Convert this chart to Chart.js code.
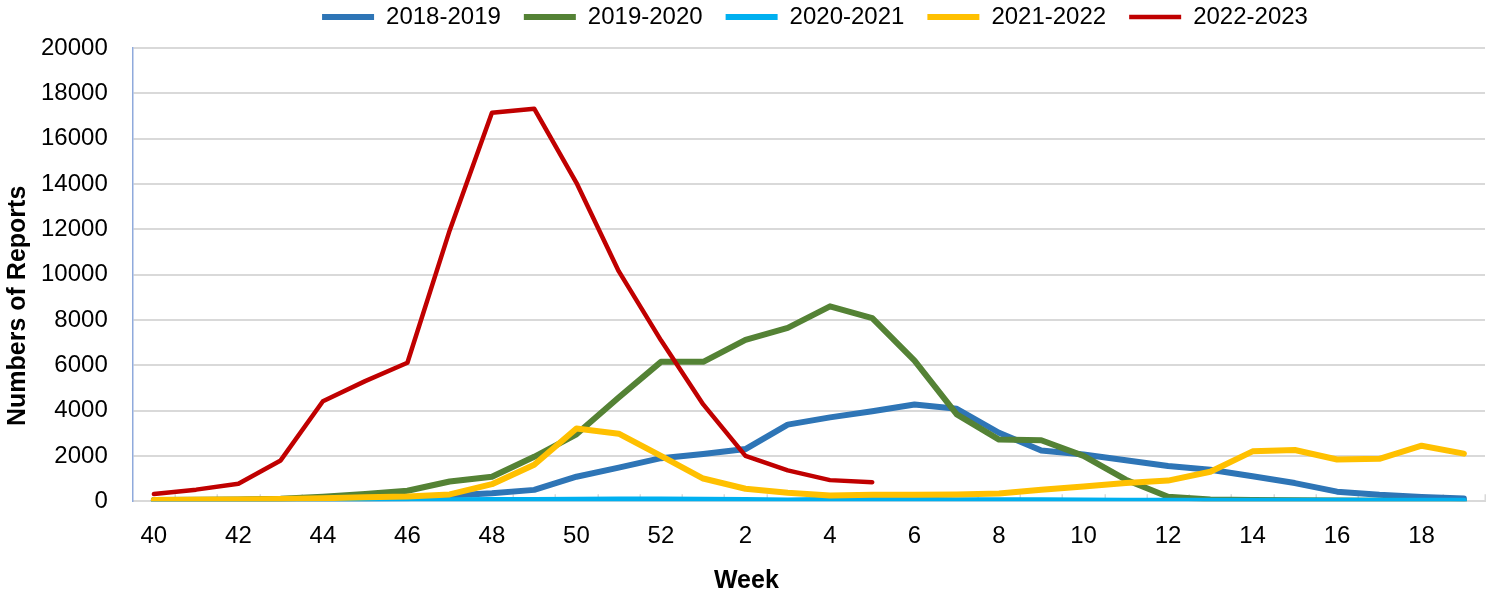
<!DOCTYPE html>
<html><head><meta charset="utf-8">
<script src="https://cdn.jsdelivr.net/npm/chart.js@4"></script>
<style>
html,body{margin:0;padding:0;background:#fff;overflow:hidden;width:1497px;height:598px}
#wrap{position:absolute;left:0;top:-18px;width:1497px;height:616px}
</style>
</head><body><div id="wrap"><canvas id="c"></canvas></div>
<script>
const weeks = ['40','41','42','43','44','45','46','47','48','49','50','51','52',
  '1','2','3','4','5','6','7','8','9','10','11','12','13','14','15','16','17','18','19'];
const xTickLabels = ['40','42','44','46','48','50','52','2','4','6','8','10','12','14','16','18'];
const yTicks = [0,2000,4000,6000,8000,10000,12000,14000,16000,18000,20000];

const s2018_2019 = [30,40,50,60,80,100,130,250,350,500,1080,1480,1900,2080,2300,3380,3700,3970,4270,4080,3020,2240,2060,1810,1550,1390,1100,800,420,280,190,120];
const s2019_2020 = [50,60,80,110,200,320,460,870,1080,1960,2950,4580,6150,6150,7120,7650,8600,8080,6200,3830,2720,2690,2000,950,200,80,50,40,30,20,10,10];
const s2020_2021 = [30,30,30,30,30,30,30,40,50,50,60,70,70,60,50,30,60,60,60,40,40,40,30,20,20,20,20,20,20,20,20,20];
const s2021_2022 = [50,60,80,100,130,170,210,300,750,1610,3210,2980,2000,1000,550,370,250,280,290,300,340,510,650,800,910,1300,2200,2260,1840,1870,2450,2100];
const s2022_2023 = [320,510,770,1800,4410,5300,6110,11950,17140,17320,14050,10150,7100,4270,2000,1360,930,840,
  null,null,null,null,null,null,null,null,null,null,null,null,null,null];

const seriesNames = ['2018-2019','2019-2020','2020-2021','2021-2022','2022-2023'];
const seriesColors = ['#2E75B6','#548235','#00B0F0','#FFC000','#C00000'];
const seriesData = [s2018_2019,s2019_2020,s2020_2021,s2021_2022,s2022_2023];
const seriesWidths = [6,6,6,6,4.5];

const innerTicks = {
  id:'innerTicks',
  beforeInit(chart){
    const fit = chart.legend.fit;
    chart.legend.fit = function(){ fit.bind(chart.legend)(); this.height += 9; };
  },
  afterLayout(chart){
    chart.legend.left += 145;
  },
  beforeDatasetsDraw(chart){
    const {ctx, chartArea:a, scales:{x}} = chart;
    const n = weeks.length;
    ctx.save();
    ctx.strokeStyle = '#D9D9D9'; ctx.lineWidth = 1.5;
    ctx.beginPath();
    for(let k=1;k<=n;k++){
      const px = Math.round(x.getPixelForValue(k-0.5)) + 0.25;
      ctx.moveTo(px, a.bottom); ctx.lineTo(px, a.bottom-7);
    }
    ctx.stroke();
    ctx.restore();
  }
};

new Chart(document.getElementById('c'), {
  type:'line',
  data:{
    labels: weeks,
    datasets: seriesNames.map((name,i)=>({
      label:name,
      data:seriesData[i],
      borderColor:seriesColors[i],
      backgroundColor:seriesColors[i],
      borderWidth:seriesWidths[i],
      borderCapStyle:'round',
      borderJoinStyle:'round',
      pointRadius:0,
      pointHoverRadius:0,
      tension:0,
      fill:false,
      spanGaps:false,
      order:4-i
    }))
  },
  options:{
    responsive:true,
    maintainAspectRatio:false,
    animation:false,
    events:[],
    layout:{padding:{left:0,right:12,top:0,bottom:0}},
    plugins:{
      tooltip:{enabled:false},
      legend:{
        display:true,
        position:'top',
        align:'center',
        labels:{
          usePointStyle:true,
          pointStyle:'line',
          pointStyleWidth:52,
          boxWidth:52,
          padding:23,
          color:'#000',
          sort:(a,b)=>a.datasetIndex-b.datasetIndex,
          font:{family:'"Liberation Sans", Arial, sans-serif', size:24}
        }
      }
    },
    scales:{
      x:{
        type:'category',
        offset:true,
        grid:{display:true, drawOnChartArea:false, drawTicks:false},
        border:{display:true,color:'#D9D9D9',width:2},
        ticks:{
          autoSkip:false, maxRotation:0, minRotation:0, padding:21, color:'#000',
          font:{family:'"Liberation Sans", Arial, sans-serif', size:24},
          callback:function(v,idx){ const l = this.getLabelForValue(v); return xTickLabels.includes(l) ? l : ''; }
        },
        title:{display:true,text:'Week                  ',color:'#000',
          font:{family:'"Liberation Sans", Arial, sans-serif', size:25, weight:'bold'},
          padding:{top:-6,bottom:2}}
      },
      y:{
        min:0,max:20000,
        afterBuildTicks:(sc)=>{ sc.ticks = yTicks.map(v=>({value:v})); },
        grid:{color:'#D9D9D9',lineWidth:2,drawTicks:false},
        border:{display:true,color:'#8FAADC',width:1.5},
        ticks:{padding:25,color:'#000',
          callback:(v)=>String(v),
          font:{family:'"Liberation Sans", Arial, sans-serif', size:24}},
        title:{display:true,text:'Numbers of Reports         ',color:'#000',
          font:{family:'"Liberation Sans", Arial, sans-serif', size:25, weight:'bold'},
          padding:{top:3,bottom:-17}}
      }
    }
  },
  plugins:[innerTicks]
});
</script>
</body></html>
